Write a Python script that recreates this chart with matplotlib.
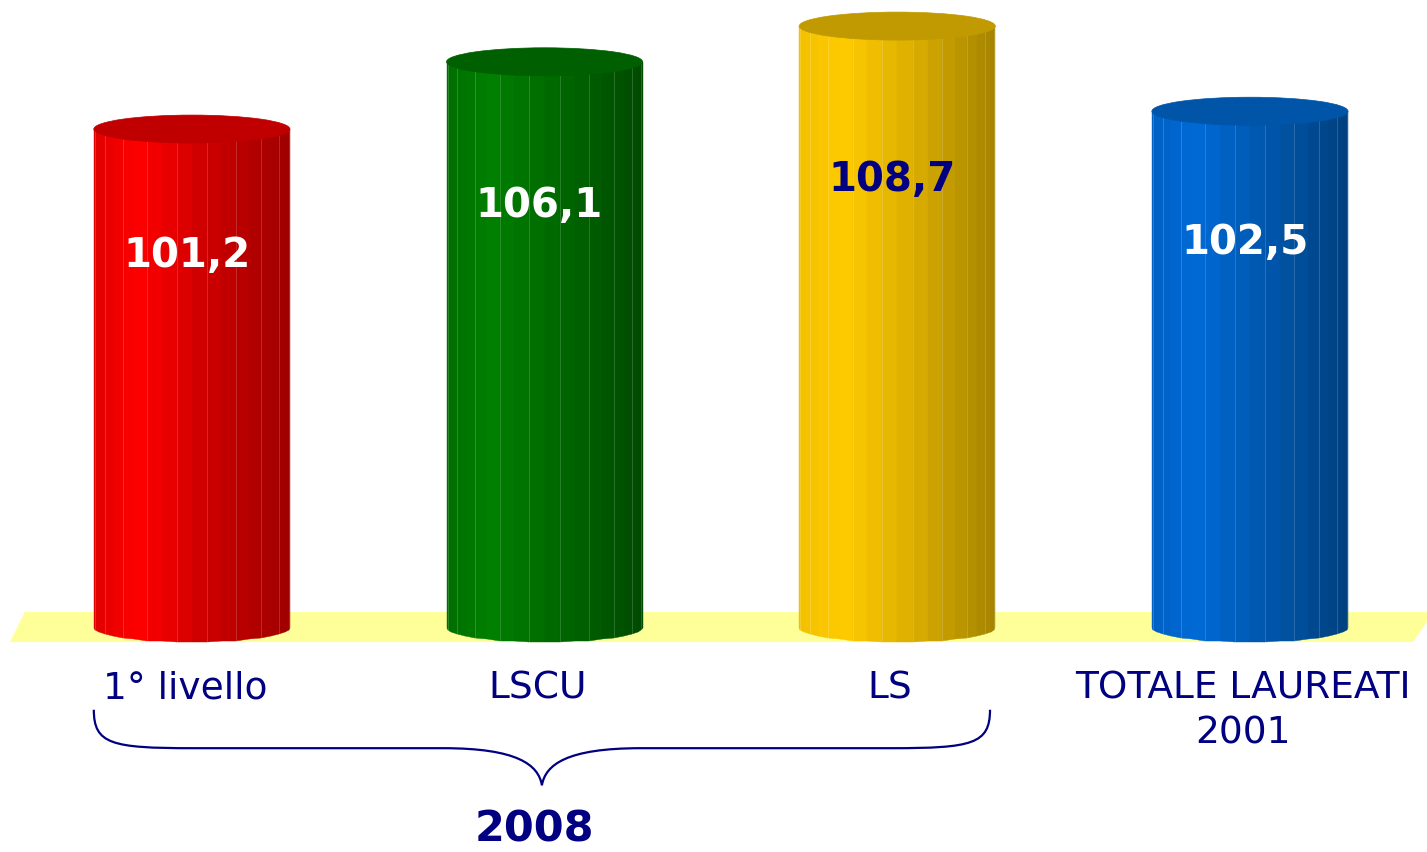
import numpy as np
import matplotlib.pyplot as plt
from matplotlib.patches import Polygon, Ellipse, PathPatch
from matplotlib.path import Path
from matplotlib.colors import LinearSegmentedColormap

# ----------------------------
# data
# ----------------------------
categories = ["1° livello", "LSCU", "LS", "TOTALE LAUREATI\n2001"]
values = [101.2, 106.1, 108.7, 102.5]
value_labels = ["101,2", "106,1", "108,7", "102,5"]
group_label = "2008"

# body colour stops (left edge, highlight, middle, right edge) and top colour
body_stops = [
    ["#e00000", "#ff0000", "#d00000", "#9e0000"],
    ["#006e00", "#008000", "#006800", "#004a00"],
    ["#f2c000", "#ffcc00", "#deb000", "#a48400"],
    ["#0060c4", "#006ad6", "#0058b0", "#00407e"],
]
top_colors = ["#c00000", "#005f00", "#c09a00", "#0055a8"]
label_colors = ["white", "white", "#000080", "white"]
NAVY = "#000080"

BASE = 64.86          # axis value at the floor
HALF_W = 0.278        # cylinder half width (category units)
ELL_H = 1.02          # half height of the end ellipses (value units)
N_FACETS = 20

fig = plt.figure(figsize=(14.27, 8.52), dpi=100)
ax = fig.add_axes([0, 0, 1, 1])
ax.set_axis_off()
xlim = (-0.544, 3.502)

# floor strip
floor = Polygon([(xlim[0] + 0.028, BASE - 1.02), (xlim[0] + 0.07, BASE + 1.165),
                 (xlim[1] + 0.02, BASE + 1.165), (xlim[1] - 0.04, BASE - 1.02)],
                closed=True, facecolor="#ffff99", edgecolor="none", zorder=1)
ax.add_patch(floor)


def draw_cylinder(c, v, stops, top):
    cmap = LinearSegmentedColormap.from_list("cyl", list(zip([0, 0.22, 0.55, 1.0], stops)))
    th = np.linspace(-np.pi / 2, np.pi / 2, N_FACETS + 1)
    for k, (t0, t1) in enumerate(zip(th[:-1], th[1:])):
        x0, x1 = c + HALF_W * np.sin(t0), c + HALF_W * np.sin(t1)
        y0, y1 = BASE - ELL_H * np.cos(t0), BASE - ELL_H * np.cos(t1)
        u = (np.sin((t0 + t1) / 2) + 1) / 2
        col = cmap(u)
        ax.add_patch(Polygon([(x0, y0), (x0, v), (x1, v), (x1, y1)], closed=True,
                             facecolor=col, edgecolor=col, lw=0.3, zorder=2))
        if k % 2 == 1:
            ax.plot([x0, x0], [y0, v], color="white", alpha=0.2, lw=0.6, zorder=3)
    ax.add_patch(Ellipse((c, v), 2 * HALF_W, 2 * ELL_H, facecolor=top,
                         edgecolor=top, lw=0.5, zorder=4))


for i, v in enumerate(values):
    draw_cylinder(i, v, body_stops[i], top_colors[i])
    ax.text(i - 0.015, BASE + 0.745 * (v - BASE), value_labels[i], ha="center", va="center",
            fontsize=29, fontweight="bold", color=label_colors[i], zorder=5)
    ax.text(i - 0.02, BASE - 3.1, categories[i], ha="center", va="top", fontsize=27,
            color=NAVY, linespacing=1.3, zorder=5)

# brace under the 2008 groups
x0, x1 = 0 - HALF_W, 2 + HALF_W - 0.015
xm = (x0 + x1) / 2
yt, ym, yb = BASE - 5.95, BASE - 8.75, BASE - 11.45
verts = [(x0, yt), (x0, ym + 0.3), (x0 + 0.05, ym), (x0 + 0.28, ym),
         (xm - 0.28, ym),
         (xm - 0.07, ym), (xm - 0.01, ym - 1.2), (xm, yb),
         (xm + 0.01, ym - 1.2), (xm + 0.07, ym), (xm + 0.28, ym),
         (x1 - 0.28, ym),
         (x1 - 0.05, ym), (x1, ym + 0.3), (x1, yt)]
codes = [Path.MOVETO, Path.CURVE4, Path.CURVE4, Path.CURVE4,
         Path.LINETO,
         Path.CURVE4, Path.CURVE4, Path.CURVE4,
         Path.CURVE4, Path.CURVE4, Path.CURVE4,
         Path.LINETO,
         Path.CURVE4, Path.CURVE4, Path.CURVE4]
ax.add_patch(PathPatch(Path(verts, codes), facecolor="none", edgecolor=NAVY, lw=1.6, zorder=5))
ax.text(xm - 0.02, BASE - 14.7, group_label, ha="center", va="center", fontsize=31,
        fontweight="bold", color=NAVY)

# text fragment in the corner, cut by the edge as in the original slide
ax.text(3.38, BASE - 15.95, "va", ha="left", va="top", fontsize=22, color=NAVY, clip_on=False)

ax.set_xlim(*xlim)
ax.set_ylim(48.55, 110.6)

fig.savefig("out.png", dpi=100)
